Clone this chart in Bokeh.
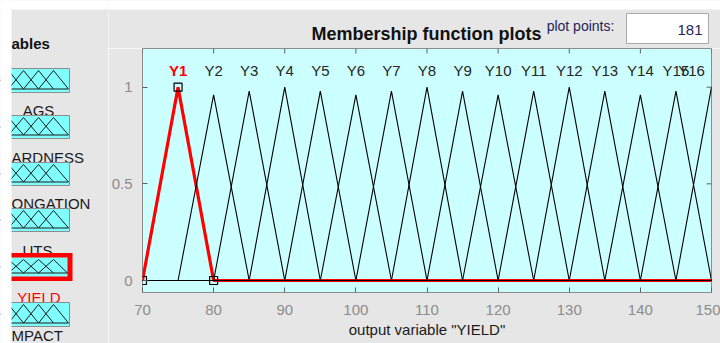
import math
from bokeh.plotting import figure
from bokeh.models import Range1d, LinearAxis, FixedTicker
from bokeh.layouts import row, column
from bokeh.embed import file_html
from bokeh.resources import INLINE
from bokeh.core.properties import value

# ---------------- data ----------------
mf_names = ["Y1", "Y2", "Y3", "Y4", "Y5", "Y6", "Y7", "Y8",
            "Y9", "Y10", "Y11", "Y12", "Y13", "Y14", "Y15", "Y16"]
mf_a = [70, 75, 80, 85, 90, 95, 100, 105, 110, 115, 120, 125, 130, 135, 140, 145]
mf_b = [75, 80, 85, 90, 95, 100, 105, 110, 115, 120, 125, 130, 135, 140, 145, 150]
mf_c = [80, 85, 90, 95, 100, 105, 110, 115, 120, 125, 130, 135, 140, 145, 150, 155]
mf_peak = [1.0, 0.96, 0.98, 1.0, 0.98, 0.96, 0.98, 1.0,
           0.98, 0.96, 0.98, 1.0, 0.98, 0.96, 0.98, 1.0]
selected_mf = 0
x_min, x_max = 70, 150
x_ticks = [70, 80, 90, 100, 110, 120, 130, 140, 150]
y_ticks = [0, 0.5, 1]
y_tick_labels = ["0", "0.5", "1"]
# variable names as far as they are visible in the cropped palette
variable_labels = ["AGS", "ARDNESS", "ONGATION", "UTS", "YIELD", "MPACT"]
selected_var = "YIELD"
panel_title = "ables"
output_var = "YIELD"
plot_points = 181

# ---------------- styles ----------------
FONT = "Liberation Sans"
GRAY = "#E6E6E6"
CYAN_BG = "#CCFFFF"
ICON_CYAN = "#80FFFF"
TICK_GRAY = "#8C8C8C"
TEXT = "#1A1A1A"

Y_LO, Y_HI = -0.062, 1.2

# ---------------- main plot ----------------
p = figure(width=612, height=295, x_range=Range1d(x_min, x_max), y_range=Range1d(Y_LO, Y_HI),
           output_backend="svg", toolbar_location=None,
           x_axis_location=None, y_axis_location=None,
           min_border_left=34, min_border_right=9, min_border_top=0, min_border_bottom=51,
           background_fill_color=CYAN_BG, border_fill_color=GRAY,
           outline_line_color="#8C8C8C", outline_line_width=1)
p.frame_align = False
p.xgrid.grid_line_color = None
p.ygrid.grid_line_color = None

xax = LinearAxis(ticker=FixedTicker(ticks=x_ticks), axis_line_color=None,
                 major_tick_in=5, major_tick_out=0, major_tick_line_color="#606060",
                 minor_tick_line_color=None,
                 major_label_text_font=FONT, major_label_text_color=TICK_GRAY,
                 major_label_text_font_size="15px", major_label_standoff=12,
                 axis_label='output variable "%s"' % output_var,
                 axis_label_text_font=FONT, axis_label_text_font_size="15px",
                 axis_label_text_font_style="normal", axis_label_text_color=TEXT,
                 axis_label_standoff=3)
p.add_layout(xax, "below")
yax = LinearAxis(ticker=FixedTicker(ticks=y_ticks), axis_line_color=None,
                 major_tick_in=5, major_tick_out=0, major_tick_line_color="#606060",
                 minor_tick_line_color=None,
                 major_label_text_font=FONT, major_label_text_color=TICK_GRAY,
                 major_label_text_font_size="15px", major_label_standoff=10,
                 major_label_overrides=dict(zip(y_ticks, y_tick_labels)))
p.add_layout(yax, "left")

# inward ticks on the top and right edges of the box
p.ray(x=x_ticks, y=[Y_HI] * len(x_ticks), length=5, length_units="screen",
      angle=-math.pi / 2, line_color="#606060", line_width=1)
p.ray(x=[x_max] * len(y_ticks), y=y_ticks, length=5, length_units="screen",
      angle=math.pi, line_color="#606060", line_width=1)

# selected MF (red, thick)
sa, sb, sc, sh = mf_a[selected_mf], mf_b[selected_mf], mf_c[selected_mf], mf_peak[selected_mf]
p.line([x_min, sa, sb, sc, x_max], [0, 0, sh, 0, 0], line_color="red", line_width=3.2)

# other MFs, thin black
for i in range(len(mf_names)):
    if i == selected_mf:
        continue
    xs = [x_min, mf_a[i], mf_b[i], mf_c[i]]
    ys = [0, 0, mf_peak[i], 0]
    if mf_c[i] < x_max:
        xs.append(x_max)
        ys.append(0)
    p.line(xs, ys, line_color="black", line_width=1.1)

p.line([x_min, x_max], [0, 0], line_color="black", line_width=1.1)

# vertex markers of the selected MF
p.scatter([sa, sb, sc], [0, sh, 0], marker="square", size=8,
          fill_color=None, line_color="black", line_width=1.2)

# MF labels
lab_x = [b for i, b in enumerate(mf_b) if i != selected_mf]
lab_t = [n for i, n in enumerate(mf_names) if i != selected_mf]
lab_off = [-20 if b >= x_max else 0 for b in lab_x]
p.text(x=lab_x, y=[1.086] * len(lab_x), text=lab_t, x_offset=lab_off,
       text_align="center", text_baseline="middle",
       text_font=value(FONT), text_font_size="15px", text_color="#262626")
p.text(x=[sb], y=[1.086], text=[mf_names[selected_mf]],
       text_align="center", text_baseline="middle",
       text_font=value(FONT), text_font_size="15px", text_font_style="bold",
       text_color="red")

# ---------------- top strip (title, plot points) ----------------
tf = figure(width=612, height=48, x_range=Range1d(108, 720), y_range=Range1d(48, 0),
            output_backend="svg", toolbar_location=None,
            x_axis_location=None, y_axis_location=None, min_border=0,
            background_fill_color=GRAY, border_fill_color=GRAY, outline_line_color=None)
tf.frame_align = False
tf.xgrid.grid_line_color = None
tf.ygrid.grid_line_color = None
tf.quad(left=100, right=730, top=-1, bottom=9, fill_color="white", line_color=None)
tf.text(x=[426], y=[33], text=["Membership function plots"], text_align="center",
        text_baseline="middle", text_font=value(FONT), text_font_size="18px",
        text_font_style="bold", text_color="#111111")
tf.text(x=[580], y=[25], text=["plot points:"], text_align="center",
        text_baseline="middle", text_font=value(FONT), text_font_size="14px",
        text_color="#23235A")
tf.quad(left=626, right=708, top=13, bottom=43, fill_color="white",
        line_color="#A8A8A8", line_width=1)
tf.text(x=[702], y=[29], text=[str(plot_points)], text_align="right",
        text_baseline="middle", text_font=value(FONT), text_font_size="15px",
        text_color="#281E5A")

# ---------------- left panel (FIS variables) ----------------
lf = figure(width=108, height=343, x_range=Range1d(0, 108), y_range=Range1d(343, 0),
            output_backend="svg", toolbar_location=None,
            x_axis_location=None, y_axis_location=None, min_border=0,
            background_fill_color=GRAY, border_fill_color=GRAY, outline_line_color=None)
lf.frame_align = False
lf.xgrid.grid_line_color = None
lf.ygrid.grid_line_color = None

icon_top = [68, 115, 162, 208, 257, 302]
icon_bot = [92, 138, 185, 231, 276, 326]
var_label_x = [38, 11, 11, 37, 38.5, 11]
var_label_align = ["center", "left", "left", "center", "center", "left"]
var_label_y = [110, 157, 203, 250, 297, 335]

lf.text(x=[11], y=[43], text=[panel_title], text_align="left", text_baseline="middle",
        text_font=value(FONT), text_font_size="15px", text_font_style="bold",
        text_color="#111111")
lf.text(x=var_label_x, y=var_label_y, text=variable_labels, text_align=var_label_align,
        text_baseline="middle", text_font=value(FONT), text_font_size="15px",
        text_color=["red" if v == selected_var else TEXT for v in variable_labels])

peaks = [8, 23, 38, 53]
for name, t, b in zip(variable_labels, icon_top, icon_bot):
    if name == selected_var:
        lf.quad(left=5, right=72, top=t - 4.5, bottom=b + 4.5, fill_color="red", line_color=None)
        lf.quad(left=5, right=67, top=t, bottom=b, fill_color=ICON_CYAN, line_color=None)
        right = 67
    else:
        lf.quad(left=5, right=69, top=t, bottom=b, fill_color=ICON_CYAN,
                line_color="#8C8C8C", line_width=1)
        right = 68
    base = b - 3.5
    top = t + 2
    xs, ys = [], []
    for pk in peaks:
        xs.append([pk - 15, pk, min(pk + 15, right)])
        ys.append([base, top, base])
    lf.multi_line(xs, ys, line_color=TEXT, line_width=1)
    lf.line([5, right], [base, base], line_color=TEXT, line_width=1)

# white page strips on the far left and top
lf.quad(left=-1, right=11, top=-1, bottom=344, fill_color="white", line_color=None)
lf.quad(left=-1, right=109, top=-1, bottom=9, fill_color="white", line_color=None)

layout = row(lf, column(tf, p))
open("out.html", "w").write(file_html(layout, INLINE))
